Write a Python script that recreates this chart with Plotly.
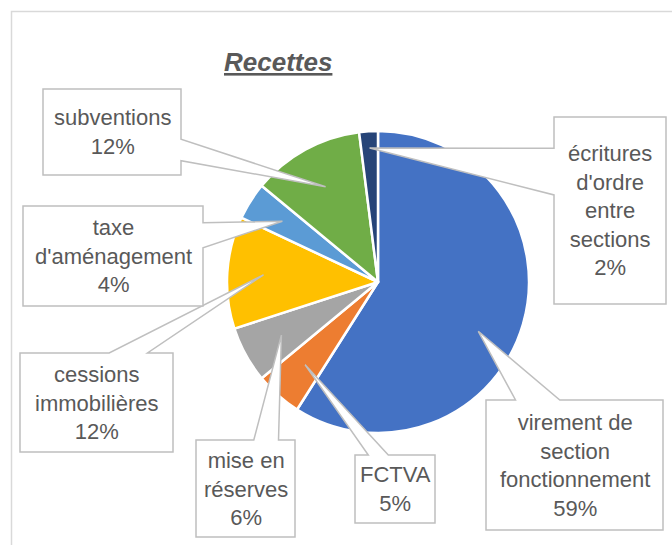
import math
import plotly.graph_objects as go

# data (clockwise from 12 o'clock)
labels = [
    "virement de<br>section<br>fonctionnement",
    "FCTVA",
    "mise en<br>réserves",
    "cessions<br>immobilières",
    "taxe<br>d'aménagement",
    "subventions",
    "écritures<br>d'ordre<br>entre<br>sections",
]
values = [59, 5, 6, 12, 4, 12, 2]
colors = ["#4472C4", "#ED7D31", "#A5A5A5", "#FFC000", "#5B9BD5", "#70AD47", "#264478"]

W, H = 672, 545
# pie geometry in pixels
CX, CY, R = 378, 282, 151

# callout boxes (left, top, right, bottom) in pixels, tip radius as fraction of R, angle nudge
boxes = [
    (486, 400, 663, 530, 0.74, 10),
    (355, 455, 435, 523, 0.73, 0),
    (196, 440, 295, 537, 0.73, 0),
    (20, 353, 173, 452, 0.76, 0),
    (23, 206, 203, 306, 0.75, 0),
    (43, 89, 181, 175, 0.72, 0),
    (554, 117, 666, 304, 0.89, 0),
]

TEXT = "#595959"
LINE = "#BFBFBF"
FONT = "Liberation Sans, Arial, sans-serif"


def callout_path(l, t, r, b, tx, ty):
    # same geometry as the office "wedgeRectCallout" shape
    w, h = r - l, b - t
    dxp = tx - (l + r) / 2
    dyp = ty - (t + b) / 2
    ds = abs(dxp * h / w) - abs(dyp)
    x1 = l + w * (7 if dxp > 0 else 2) / 12
    x2 = l + w * (10 if dxp > 0 else 5) / 12
    y1 = t + h * (7 if dyp > 0 else 2) / 12
    y2 = t + h * (10 if dyp > 0 else 5) / 12
    pts = [(l, t)]
    if ds < 0 and dyp < 0:
        pts += [(x1, t), (tx, ty), (x2, t)]
    pts.append((r, t))
    if ds >= 0 and dxp > 0:
        pts += [(r, y1), (tx, ty), (r, y2)]
    pts.append((r, b))
    if ds < 0 and dyp > 0:
        pts += [(x2, b), (tx, ty), (x1, b)]
    pts.append((l, b))
    if ds >= 0 and dxp < 0:
        pts += [(l, y2), (tx, ty), (l, y1)]
    return "M " + " L ".join(f"{x:.1f},{y:.1f}" for x, y in pts) + " Z"


fig = go.Figure()

fig.add_trace(
    go.Pie(
        labels=[lab.replace("<br>", " ") for lab in labels],
        values=values,
        sort=False,
        direction="clockwise",
        rotation=0,
        marker=dict(colors=colors, line=dict(color="white", width=2.5)),
        textinfo="none",
        hoverinfo="label+percent",
        showlegend=False,
        domain=dict(x=[(CX - R) / W, (CX + R) / W], y=[1 - (CY + R) / H, 1 - (CY - R) / H]),
    )
)

shapes = [
    dict(type="rect", xref="x", yref="y", x0=11.5, y0=11.5, x1=W + 20, y1=H + 20,
         line=dict(color="#D9D9D9", width=1.5), layer="below"),
]
annotations = [
    dict(text="<b><i><u>Recettes</u></i></b>", x=278, y=62, xref="x", yref="y",
         showarrow=False, font=dict(family=FONT, size=26, color=TEXT)),
]

total = sum(values)
cum = 0
for lab, v, box in zip(labels, values, boxes):
    l, t, r, b, tip_r, shift = box
    mid = (cum + v / 2) / total * 360 + shift
    cum += v
    tx = CX + tip_r * R * math.sin(math.radians(mid))
    ty = CY - tip_r * R * math.cos(math.radians(mid))
    shapes.append(dict(type="path", xref="x", yref="y", path=callout_path(l, t, r, b, tx, ty),
                       fillcolor="white", line=dict(color=LINE, width=1.5), layer="above"))
    annotations.append(dict(text=f"{lab}<br>{round(v / total * 100)}%", x=(l + r) / 2, y=(t + b) / 2,
                            xref="x", yref="y", showarrow=False,
                            font=dict(family=FONT, size=22, color=TEXT)))

fig.update_layout(
    width=W,
    height=H,
    margin=dict(l=0, r=0, t=0, b=0),
    paper_bgcolor="white",
    plot_bgcolor="rgba(0,0,0,0)",
    xaxis=dict(range=[0, W], visible=False, domain=[0, 1], fixedrange=True),
    yaxis=dict(range=[H, 0], visible=False, domain=[0, 1], fixedrange=True),
    shapes=shapes,
    annotations=annotations,
)

# page body has a default 8px margin; drop it so the figure fills the window
fig.write_html("out.html", config={"displayModeBar": False},
               post_script="document.body.style.margin='0px';")
